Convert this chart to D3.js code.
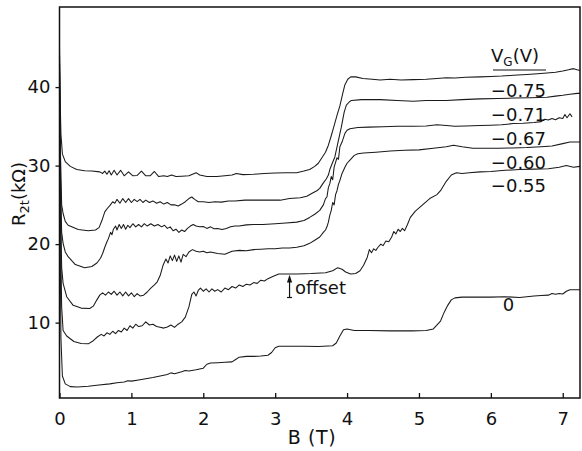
<!DOCTYPE html>
<html><head><meta charset="utf-8">
<script src="https://cdn.jsdelivr.net/npm/d3@7/dist/d3.min.js"></script>
<style>
html,body{margin:0;padding:0;background:#fff;}
svg{display:block;font-family:"DejaVu Sans",sans-serif;}
</style></head>
<body>
<svg id="chart" width="582" height="451"></svg>
<script>
// ---- data: B (T), R_2t (kΩ) ----
const xTicks = [0,1,2,3,4,5,6,7];
const yTicks = [10,20,30,40];
const gateLabels = ["\u22120.75","\u22120.71","\u22120.67","\u22120.60","\u22120.55"];
const zeroLabel = "0";

const vgm075 = [[0.0,45],[0.005,40],[0.02,34],[0.04,31.5],[0.08,30.5],[0.15,29.9],[0.24,29.5],[0.35,29.35],[0.45,29.3],[0.56,29.2],[0.6,29.0],[0.63,29.3],[0.66,28.9],[0.69,29.35],[0.72,28.8],[0.76,29.4],[0.8,28.8],[0.85,29.4],[0.9,28.7],[0.96,29.2],[1.02,28.7],[1.08,28.75],[1.14,29.3],[1.2,28.7],[1.26,28.7],[1.32,29.25],[1.38,28.6],[1.45,28.7],[1.5,28.6],[1.56,28.8],[1.62,28.6],[1.7,28.65],[1.8,28.7],[1.9,29.1],[1.95,28.8],[2.05,28.6],[2.19,28.6],[2.3,28.7],[2.4,28.8],[2.46,29.0],[2.55,28.85],[2.7,28.9],[2.85,29.0],[3.0,29.05],[3.15,29.1],[3.3,29.1],[3.4,29.3],[3.48,29.5],[3.55,29.9],[3.6,30.3],[3.65,31.0],[3.7,31.7],[3.74,32.6],[3.78,33.8],[3.82,35.1],[3.86,36.4],[3.9,37.6],[3.94,39.2],[3.97,40.3],[4.01,41.0],[4.05,41.3],[4.12,41.3],[4.22,41.1],[4.35,41.0],[4.46,40.9],[4.6,41.0],[4.75,40.9],[4.92,40.95],[5.1,41.0],[5.25,41.1],[5.38,41.2],[5.5,41.15],[5.65,41.25],[5.85,41.3],[6.0,41.35],[6.15,41.4],[6.31,41.5],[6.5,41.6],[6.65,41.7],[6.78,41.8],[6.9,41.9],[7.0,42.05],[7.08,42.2],[7.15,42.35],[7.2,42.2],[7.24,42.1]];

const vgm071 = [[0.0,44],[0.01,33],[0.03,25],[0.05,23.9],[0.08,22.9],[0.12,22.4],[0.26,21.85],[0.4,21.7],[0.5,21.8],[0.55,22.1],[0.59,23.0],[0.63,24.1],[0.67,24.6],[0.7,24.9],[0.74,25.4],[0.77,25.2],[0.8,25.7],[0.84,25.2],[0.88,25.8],[0.92,25.3],[0.96,25.8],[1.0,25.3],[1.04,25.7],[1.08,25.4],[1.12,25.7],[1.16,25.3],[1.2,25.6],[1.25,25.3],[1.3,25.5],[1.35,25.2],[1.4,25.4],[1.45,25.1],[1.5,25.3],[1.55,25.0],[1.6,25.0],[1.65,24.85],[1.7,25.1],[1.75,25.4],[1.8,25.8],[1.84,26.0],[1.88,25.7],[1.93,25.4],[2.0,25.4],[2.08,25.3],[2.16,25.4],[2.25,25.35],[2.35,25.5],[2.44,25.5],[2.58,25.6],[2.75,25.6],[2.9,25.6],[3.07,25.6],[3.2,25.8],[3.35,25.9],[3.44,26.1],[3.52,26.5],[3.58,26.8],[3.62,27.1],[3.67,27.8],[3.71,28.3],[3.74,28.8],[3.76,29.5],[3.79,30.2],[3.83,31.1],[3.87,32.8],[3.92,34.9],[3.96,36.8],[3.99,37.7],[4.03,38.1],[4.06,38.3],[4.2,38.4],[4.46,38.4],[4.7,38.3],[4.92,38.2],[5.1,38.3],[5.38,38.3],[5.6,38.4],[5.85,38.5],[6.1,38.55],[6.31,38.6],[6.55,38.65],[6.78,38.7],[6.9,38.85],[7.0,38.95],[7.1,39.1],[7.2,39.2],[7.24,39.2]];

const vgm067 = [[0.0,43],[0.01,30],[0.03,21.5],[0.05,20.1],[0.08,19.0],[0.12,18.4],[0.22,17.4],[0.35,17.0],[0.45,17.15],[0.52,17.6],[0.57,18.2],[0.6,18.8],[0.63,19.6],[0.66,20.3],[0.68,20.7],[0.71,21.5],[0.73,21.2],[0.75,21.9],[0.78,22.3],[0.8,21.8],[0.83,22.5],[0.86,22.0],[0.89,22.5],[0.92,21.9],[0.95,22.4],[0.98,22.1],[1.02,22.6],[1.06,22.2],[1.1,22.5],[1.14,22.2],[1.18,22.6],[1.22,22.3],[1.27,22.6],[1.32,22.3],[1.37,22.5],[1.42,22.2],[1.46,22.4],[1.5,22.0],[1.54,22.2],[1.58,21.7],[1.62,21.9],[1.66,21.5],[1.7,21.8],[1.74,21.6],[1.78,22.0],[1.82,22.3],[1.86,22.5],[1.9,22.3],[1.95,22.2],[2.0,22.25],[2.05,22.0],[2.1,22.2],[2.15,21.95],[2.2,22.0],[2.26,21.85],[2.32,22.0],[2.38,22.2],[2.44,22.3],[2.5,22.3],[2.6,22.45],[2.7,22.5],[2.83,22.5],[3.0,22.6],[3.15,22.7],[3.3,22.8],[3.4,23.0],[3.48,23.4],[3.55,23.8],[3.62,24.3],[3.67,25.0],[3.7,25.8],[3.72,26.0],[3.74,27.2],[3.76,27.7],[3.78,28.6],[3.8,28.2],[3.82,29.8],[3.84,30.4],[3.86,31.0],[3.88,30.8],[3.9,32.4],[3.93,33.0],[3.97,34.1],[4.0,34.5],[4.04,34.7],[4.15,34.85],[4.3,34.9],[4.5,34.95],[4.7,35.0],[4.92,35.0],[5.1,35.05],[5.25,35.2],[5.38,35.1],[5.5,35.0],[5.65,35.05],[5.85,35.1],[6.0,35.15],[6.15,35.2],[6.31,35.35],[6.45,35.4],[6.6,35.5],[6.7,35.6],[6.75,35.9],[6.8,35.8],[6.85,36.0],[6.9,35.85],[6.95,36.1],[7.0,36.0],[7.03,36.5],[7.06,36.1],[7.1,36.6],[7.13,36.2]];

const vgm060 = [[0.0,42],[0.01,28],[0.03,17],[0.05,15.0],[0.1,13.3],[0.19,12.2],[0.3,11.85],[0.42,11.8],[0.47,12.1],[0.52,12.9],[0.56,13.5],[0.6,13.8],[0.64,13.5],[0.68,13.9],[0.72,13.6],[0.76,14.0],[0.8,13.5],[0.84,13.9],[0.88,13.4],[0.92,13.9],[0.96,13.4],[1.0,13.8],[1.04,13.3],[1.08,13.7],[1.12,13.4],[1.17,13.5],[1.22,13.9],[1.27,14.4],[1.32,14.8],[1.36,15.2],[1.4,16.0],[1.44,17.3],[1.48,18.1],[1.51,17.6],[1.54,18.5],[1.57,17.9],[1.6,18.6],[1.63,17.8],[1.66,18.5],[1.69,17.7],[1.72,18.7],[1.76,18.4],[1.8,19.0],[1.85,19.3],[1.9,19.1],[1.95,19.0],[2.0,19.1],[2.05,18.9],[2.1,19.0],[2.2,18.8],[2.3,18.7],[2.4,19.1],[2.5,19.2],[2.6,19.15],[2.7,19.3],[2.8,19.35],[2.9,19.4],[3.0,19.4],[3.1,19.5],[3.2,19.5],[3.3,19.6],[3.4,19.8],[3.48,20.1],[3.55,20.5],[3.62,20.9],[3.67,21.5],[3.7,21.8],[3.72,22.2],[3.74,22.8],[3.76,23.7],[3.78,24.3],[3.8,25.3],[3.82,25.0],[3.84,26.3],[3.86,26.8],[3.88,27.6],[3.9,28.1],[3.93,29.0],[3.97,29.8],[4.0,30.3],[4.04,30.7],[4.1,31.3],[4.15,31.5],[4.23,31.6],[4.4,31.7],[4.6,31.85],[4.8,31.95],[5.0,32.0],[5.2,32.2],[5.38,32.4],[5.48,32.6],[5.6,32.4],[5.75,32.2],[5.9,32.2],[6.1,32.2],[6.3,32.25],[6.5,32.3],[6.7,32.4],[6.85,32.5],[7.0,32.8],[7.1,33.0],[7.24,33.0]];

const vgm055 = [[0.0,43],[0.01,25],[0.03,12],[0.05,9.0],[0.1,8.3],[0.2,7.6],[0.3,7.35],[0.4,7.3],[0.47,7.7],[0.53,8.2],[0.58,8.5],[0.62,8.3],[0.66,8.7],[0.7,8.5],[0.74,8.9],[0.78,8.6],[0.82,9.0],[0.86,8.8],[0.9,9.3],[0.94,9.0],[0.98,9.6],[1.02,9.3],[1.06,9.8],[1.1,9.5],[1.15,9.6],[1.2,10.1],[1.25,9.7],[1.3,9.8],[1.35,9.5],[1.4,9.4],[1.45,9.3],[1.5,9.45],[1.55,9.7],[1.6,9.4],[1.65,9.8],[1.7,10.1],[1.75,10.7],[1.8,12.0],[1.84,13.6],[1.87,13.9],[1.9,13.4],[1.93,14.1],[1.96,14.4],[2.0,14.0],[2.04,14.3],[2.08,13.9],[2.12,14.3],[2.16,14.0],[2.2,14.2],[2.25,13.9],[2.3,14.4],[2.35,14.2],[2.4,14.6],[2.45,14.4],[2.5,14.8],[2.55,14.6],[2.6,14.9],[2.65,14.8],[2.7,15.1],[2.75,15.0],[2.8,15.4],[2.85,15.3],[2.9,15.6],[2.95,15.8],[3.0,16.0],[3.05,16.2],[3.1,16.2],[3.3,16.2],[3.5,16.25],[3.7,16.35],[3.8,16.6],[3.87,17.0],[3.93,16.8],[3.98,16.45],[4.05,16.2],[4.12,16.25],[4.18,16.6],[4.23,17.3],[4.28,18.3],[4.31,19.3],[4.34,18.9],[4.37,19.4],[4.4,19.2],[4.43,19.6],[4.47,20.0],[4.5,19.8],[4.54,20.4],[4.58,20.3],[4.62,20.9],[4.65,21.6],[4.68,21.3],[4.71,21.9],[4.74,21.6],[4.77,22.0],[4.8,21.7],[4.84,22.5],[4.88,23.4],[4.95,24.2],[5.05,25.0],[5.15,25.8],[5.25,26.3],[5.3,26.8],[5.38,28.0],[5.45,28.8],[5.52,29.1],[5.6,29.0],[5.7,29.1],[5.85,29.2],[6.0,29.25],[6.2,29.4],[6.4,29.5],[6.6,29.55],[6.8,29.6],[6.95,29.8],[7.05,30.0],[7.15,29.8],[7.24,29.9]];

const vg0 = [[0.0,44],[0.01,20],[0.02,8],[0.04,3.2],[0.08,2.2],[0.15,1.85],[0.25,1.8],[0.4,1.9],[0.55,2.05],[0.7,2.2],[0.8,2.35],[0.9,2.45],[0.95,2.6],[1.0,2.55],[1.1,2.7],[1.2,2.85],[1.3,3.0],[1.4,3.2],[1.5,3.4],[1.55,3.6],[1.6,3.5],[1.7,3.75],[1.75,3.9],[1.8,3.85],[1.9,4.0],[2.0,4.2],[2.05,4.7],[2.1,4.85],[2.2,4.9],[2.3,4.95],[2.4,5.0],[2.45,5.3],[2.5,5.6],[2.6,5.7],[2.7,5.7],[2.8,5.75],[2.9,5.85],[2.95,6.2],[3.0,6.8],[3.05,7.0],[3.2,7.0],[3.4,7.0],[3.6,6.95],[3.8,7.05],[3.85,7.4],[3.9,8.3],[3.95,9.1],[4.0,9.2],[4.1,9.0],[4.3,9.0],[4.6,8.95],[4.9,8.95],[5.1,9.0],[5.2,9.2],[5.3,10.2],[5.35,11.3],[5.4,12.2],[5.45,12.9],[5.5,13.15],[5.6,13.25],[5.8,13.25],[6.0,13.25],[6.2,13.3],[6.4,13.2],[6.5,13.3],[6.6,13.4],[6.7,13.45],[6.8,13.5],[6.85,13.7],[6.9,13.6],[6.95,13.7],[7.0,13.65],[7.05,14.0],[7.1,14.2],[7.24,14.2]];

const series = [vgm075, vgm071, vgm067, vgm060, vgm055, vg0];

// ---- drawing ----
const svg = d3.select("#chart");
const x = d3.scaleLinear().domain([0, 7.24]).range([59.5, 580]);
const y = d3.scaleLinear().domain([0.4, 50.2]).range([398, 7]);
const ink = "#111";

// curves
const line = d3.line().x(d => x(d[0])).y(d => y(d[1]));
svg.append("g").selectAll("path").data(series).join("path")
  .attr("d", line).attr("fill", "none").attr("stroke", "#1a1a1a")
  .attr("stroke-width", 1.05).attr("stroke-linejoin", "round");

// frame
svg.append("rect").attr("x", 59.5).attr("y", 7).attr("width", 520.5).attr("height", 391)
  .attr("fill", "none").attr("stroke", ink).attr("stroke-width", 1.5);

// bottom axis (ticks inward)
const xAxis = d3.axisBottom(x).tickValues(xTicks).tickSize(-5).tickPadding(14).tickFormat(d3.format("d"));
const gx = svg.append("g").attr("transform", "translate(0,398)").call(xAxis);
gx.select(".domain").remove();
gx.selectAll("line").attr("stroke", ink).attr("stroke-width", 1.3);
gx.selectAll("text").attr("font-size", 18).attr("fill", ink).attr("font-family", "DejaVu Sans");

// left axis (ticks outward)
const yAxis = d3.axisLeft(y).tickValues(yTicks).tickSize(4).tickPadding(5).tickFormat(d3.format("d"));
const gy = svg.append("g").attr("transform", "translate(59.5,0)").call(yAxis);
gy.select(".domain").remove();
gy.selectAll("line").attr("stroke", ink).attr("stroke-width", 1.3);
gy.selectAll("text").attr("font-size", 18).attr("fill", ink).attr("font-family", "DejaVu Sans");

// axis titles
svg.append("text").attr("x", 312).attr("y", 444).attr("text-anchor", "middle")
  .attr("font-size", 19).attr("letter-spacing", 0.6).attr("fill", ink).text("B (T)");

const yl = svg.append("text").attr("transform", "translate(25,226) rotate(-90)")
  .attr("font-size", 18).attr("fill", ink);
yl.append("tspan").text("R");
yl.append("tspan").attr("font-size", 13).attr("dy", 4).text("2t");
yl.append("tspan").attr("dy", -4).text("(k\u03A9)");

// legend header
const hd = svg.append("text").attr("x", 491).attr("y", 62).attr("font-size", 18).attr("fill", ink);
hd.append("tspan").text("V");
hd.append("tspan").attr("font-size", 12).attr("dy", 4).text("G");
hd.append("tspan").attr("dy", -4).text("(V)");
svg.append("line").attr("x1", 493).attr("x2", 546).attr("y1", 70).attr("y2", 70)
  .attr("stroke", ink).attr("stroke-width", 1.2);

// gate voltage labels placed in data units
const labelR = [38.8, 35.7, 32.6, 29.6, 26.6];
svg.append("g").selectAll("text").data(gateLabels).join("text")
  .attr("x", x(6.0)).attr("y", (d, i) => y(labelR[i]))
  .attr("font-size", 18).attr("fill", ink).text(d => d);

svg.append("text").attr("x", x(6.245)).attr("y", y(11.5)).attr("text-anchor", "middle")
  .attr("font-size", 18).attr("fill", ink).text(zeroLabel);

// offset arrow
const ax = x(3.2);
svg.append("line").attr("x1", ax).attr("x2", ax).attr("y1", y(13.2)).attr("y2", y(15.6))
  .attr("stroke", ink).attr("stroke-width", 1.2);
svg.append("line").attr("x1", ax - 2.5).attr("x2", ax + 2.5).attr("y1", y(13.2)).attr("y2", y(13.2))
  .attr("stroke", ink).attr("stroke-width", 1.2);
svg.append("path").attr("d", `M${ax},${y(16.1)} L${ax-2.6},${y(15.1)} L${ax+2.6},${y(15.1)} Z`).attr("fill", ink);
svg.append("text").attr("x", ax + 5.5).attr("y", 293.5).attr("font-size", 18).attr("fill", ink).text("offset");
</script>
</body></html>
